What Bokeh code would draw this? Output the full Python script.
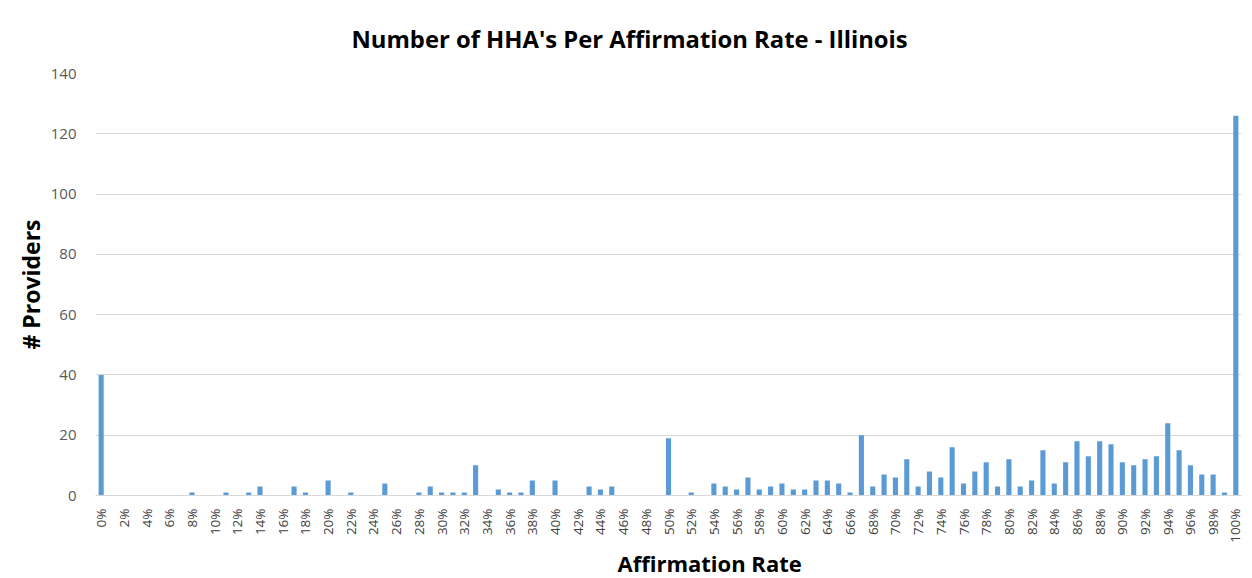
from bokeh.plotting import figure
from bokeh.models import FixedTicker, Range1d, ColumnDataSource, Title
from bokeh.embed import file_html
from bokeh.resources import INLINE
import math

# ---- data ----
rates = list(range(0, 101))  # affirmation rate, %
counts = [
    40, 0, 0, 0, 0, 0, 0, 0, 1, 0,    # 0-9
    0, 1, 0, 1, 3, 0, 0, 3, 1, 0,     # 10-19
    5, 0, 1, 0, 0, 4, 0, 0, 1, 3,     # 20-29
    1, 1, 1, 10, 0, 2, 1, 1, 5, 0,    # 30-39
    5, 0, 0, 3, 2, 3, 0, 0, 0, 0,     # 40-49
    19, 0, 1, 0, 4, 3, 2, 6, 2, 3,    # 50-59
    4, 2, 2, 5, 5, 4, 1, 20, 3, 7,    # 60-69
    6, 12, 3, 8, 6, 16, 4, 8, 11, 3,  # 70-79
    12, 3, 5, 15, 4, 11, 18, 13, 18, 17,  # 80-89
    11, 10, 12, 13, 24, 15, 10, 7, 7, 1,  # 90-99
    126,                              # 100
]
tick_rates = list(range(0, 101, 2))
tick_labels = {r: f"{r}%" for r in tick_rates}
y_ticks = [0, 20, 40, 60, 80, 100, 120, 140]

title_text = "Number of HHA's Per Affirmation  Rate - Illinois"
x_title = "Affirmation Rate"
y_title = "# Providers"

source = ColumnDataSource(dict(rate=rates, count=counts))

p = figure(width=1243, height=577, output_backend="svg", toolbar_location=None,
           x_range=Range1d(-0.5, 100.5), y_range=Range1d(0, 140))
p.min_border_left = 95
p.min_border_right = 2
p.min_border_top = 73
p.min_border_bottom = 82
p.outline_line_color = None
p.background_fill_color = "white"
p.border_fill_color = "white"

p.vbar(x="rate", top="count", width=0.45, source=source,
       fill_color="#5B9BD5", line_color=None)

# axes
p.xaxis.ticker = FixedTicker(ticks=tick_rates)
p.xaxis.major_label_overrides = tick_labels
p.xaxis.major_label_orientation = math.pi / 2
p.xaxis.major_label_text_font = "Open Sans"
p.xaxis.major_label_text_font_size = "13.5px"
p.xaxis.major_label_text_color = "#404040"
p.xaxis.major_label_standoff = 7
p.xaxis.major_tick_line_color = None
p.xaxis.minor_tick_line_color = None
p.xaxis.axis_line_color = "#d9d9d9"

p.yaxis.ticker = FixedTicker(ticks=y_ticks)
p.yaxis.major_label_text_font = "Open Sans"
p.yaxis.major_label_text_font_size = "15px"
p.yaxis.major_label_text_color = "#595959"
p.yaxis.major_label_standoff = 13
p.yaxis.major_tick_line_color = None
p.yaxis.minor_tick_line_color = None
p.yaxis.axis_line_color = None
p.yaxis.axis_label = y_title
p.yaxis.axis_label_text_font = "Open Sans"
p.yaxis.axis_label_text_font_size = "23px"
p.yaxis.axis_label_text_font_style = "bold"
p.yaxis.axis_label_text_color = "black"
p.yaxis.axis_label_standoff = 1

p.xgrid.grid_line_color = None
p.ygrid.grid_line_color = "#d9d9d9"

# chart title (left-aligned with offset so it sits where the original is)
p.add_layout(Title(text=title_text, align="left", offset=256,
                   text_font="Open Sans", text_font_size="23.8px",
                   text_font_style="bold", text_color="black",
                   standoff=38), "above")
# x-axis title
p.add_layout(Title(text=x_title, align="left", offset=522,
                   text_font="Open Sans", text_font_size="22px",
                   text_font_style="bold", text_color="black",
                   standoff=0), "below")

open("out.html", "w").write(file_html(p, INLINE))
